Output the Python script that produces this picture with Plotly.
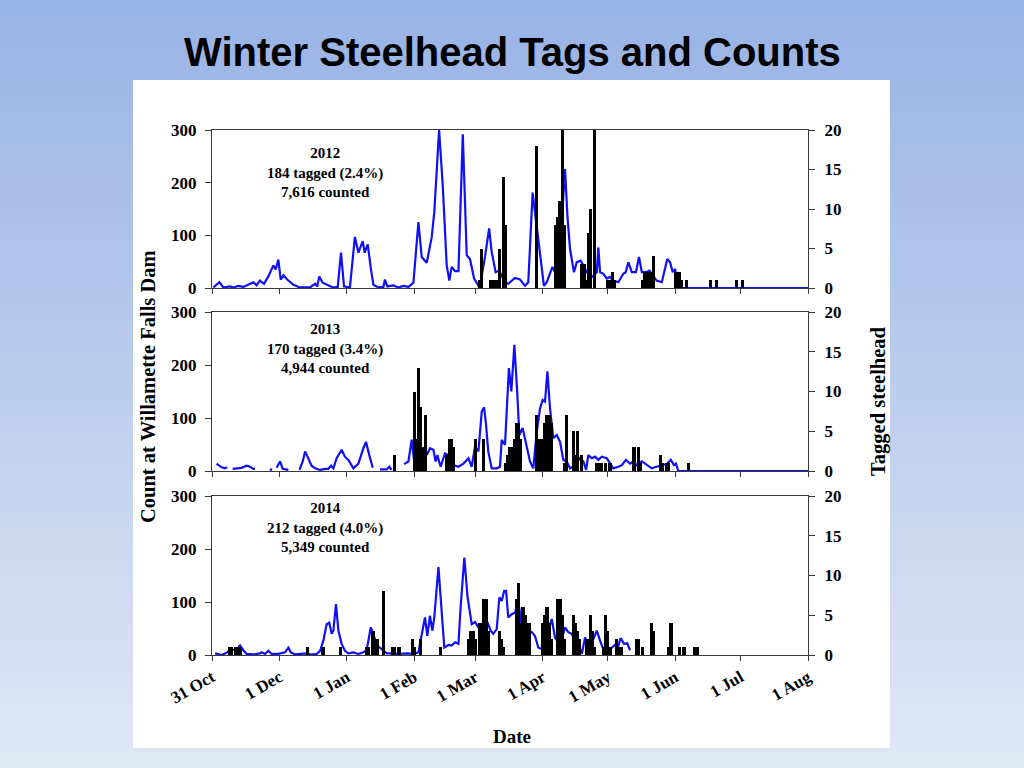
import plotly.graph_objects as go

# ---------------- data ----------------
tick_days = [0, 31, 62, 93, 121, 152, 182, 213, 243, 274]
tick_text = ["31 Oct", "1 Dec", "1 Jan", "1 Feb", "1 Mar", "1 Apr", "1 May", "1 Jun", "1 Jul", "1 Aug"]

years = ["2012", "2013", "2014"]
tagged_text = ["184 tagged (2.4%)", "170 tagged (3.4%)", "212 tagged (4.0%)"]
counted_text = ["7,616 counted", "4,944 counted", "5,349 counted"]

# daily dam counts (days after 31 Oct)
count12_day = [0.6, 3.4, 5.2, 8.3, 9.8, 12.1, 14.4, 16.7, 19, 20.5, 22, 23.9, 25.9, 28.2, 29.3, 30.5, 31.6,
               32.8, 34.6, 37.4, 40.5, 45, 47.4, 48.4, 49.3, 50.9, 52.7, 54.6, 55.8, 57.8, 59.3, 60.7, 63.4,
               64.7, 65.7, 67.3, 69.3, 70.2, 71.6, 73, 74.2, 76.5, 78.8, 79.5, 80.6, 83.4, 85.7, 88, 90.3,
               92.6, 94.9, 96.4, 98.7, 101, 102.2, 104.4, 106.1, 107.9, 109.1, 110.2, 111.7, 113.3, 115.3,
               117.1, 118.6, 120.5, 122.4, 123.5, 125.5, 127.4, 128.6, 130.4, 132, 134.7, 136.2, 139.3,
               141.6, 143.9, 145.4, 147.4, 148.5, 150, 151.6, 152.6, 153.9, 156.5, 157.7, 159.7, 162.3,
               163.4, 164.6, 166.4, 167.7, 169.5, 170.7, 172.3, 174.6, 176.9, 177.6, 178.4, 179.9, 181.5,
               183, 184.5, 186.8, 189.1, 190.2, 191.4, 193, 194.9, 196.3, 197.6, 199.5, 201.1, 204.4,
               206.8, 209.3, 210.6, 211.8, 212.9, 213.9, 214.5, 274]
count12_val = [1, 11, 1, 3, 1, 4, 2, 6, 11, 5, 14, 8, 22, 43, 35, 54, 16,
               24, 16, 6, 1, 1, 8, 3, 22, 10, 6, 3, 1, 2, 67, 3, 1,
               51, 97, 67, 89, 67, 83, 38, 6, 1, 2, 16, 3, 5, 1, 4, 2,
               10, 125, 59, 48, 96, 144, 300, 194, 43, 14, 40, 32, 32, 292,
               62, 55, 18, 5, 11, 59, 113, 68, 30, 33, 11, 8, 19,
               16, 4, 11, 181, 144, 100, 43, 4, 11, 40, 30, 55, 226,
               137, 74, 30, 49, 52, 43, 30, 21, 30, 77, 30, 27, 18,
               21, 14, 11, 27, 30, 49, 30, 30, 59, 30, 30, 33, 14,
               11, 55, 49, 30, 36, 11, 0, 0]

tags12_day = [123, 124, 128, 129, 130, 131, 132, 134, 135, 149, 158, 159, 160, 161, 162, 170, 171, 172,
              173, 174, 176, 182, 183, 184, 185, 198, 199, 200, 201, 202, 203, 213, 214, 215, 216, 218,
              229, 232, 241, 244]
tags12_val = [1, 5, 1, 1, 1, 1, 5, 14, 8, 18, 8, 9, 11, 20, 8, 3, 3, 1,
              7, 10, 20, 1, 1, 2, 1, 1, 2, 2, 2, 2, 4, 2, 2, 2, 1, 1,
              1, 1, 1, 1]

count13_day = [2.1, 3.4, 4.4, 6, 7, None, 9.5, 11.3, 13.6, 15.9, 17.5, 19, 19.8, None, 26.6, 27.6, None,
               29.7, 31.3, 32.5, 34, 35.1, None, 40.2, 41.7, 42.8, 44.3, 45.8, 47.4, 49.7, 52, 53.5, 54.7,
               55.8, 57.3, 59.6, 61.1, 62.7, 65, 67.3, 69.6, 70.8, 72.3, 73.9, None, 77.2, 80.3, 81.5, 82.6,
               None, 88.3, 90.3, 91.8, 92.9, 94.1, 95.6, 97.2, 98.7, 100.2, 101.8, 102.8, 103.6, 105.1,
               107.1, 108.7, 111, 113.3, 115.6, 117.9, 119.4, 120.9, 122.5, 124, 125.1, 126, 127, 128.6,
               130.9, 132.4, 133.2, 134.7, 136.5, 137.6, 139, 140.3, 141.3, 142.8, 144.4, 146.2, 147.7,
               149.3, 150.8, 152, 153.1, 154.2, 155.4, 156.9, 158.5, 160, 161.5, 163.1, 164.6, 166.9,
               169.2, 170.7, 172, 173, 174.6, 176.1, 177.6, 179.2, 181.5, 183, 184.5, 186.8, 188.4,
               190.3, 192.2, 193.7, 195.3, 197.6, 199.9, 202.2, 204.4, 206.8, 209.1, 210.9, 212.4,
               213.3, 214.4, 274]
count13_val = [14, 10, 7, 5, 7, None, 4, 5, 6, 10, 8, 4, 4, None, 3, 2, None,
               6, 18, 4, 3, 2, None, 2, 18, 37, 24, 10, 5, 2, 4, 4, 10,
               5, 24, 40, 27, 21, 5, 14, 43, 55, 30, 6, None, 3, 3, 8, 2,
               None, 13, 18, 59, 19, 49, 37, 43, 30, 43, 40, 18, 30, 8,
               33, 30, 11, 8, 14, 24, 8, 46, 37, 112, 120, 87, 37, 5,
               5, 8, 59, 49, 194, 150, 238, 150, 68, 81, 49, 18, 5,
               74, 118, 134, 131, 188, 118, 62, 68, 55, 21, 18, 5, 11,
               24, 18, 2, 30, 24, 27, 21, 27, 24, 14, 5, 8, 11,
               21, 14, 18, 11, 18, 11, 5, 8, 11, 13, 21, 11,
               14, 0, 0]

tags13_day = [84, 93, 94, 95, 96, 97, 98, 108, 109, 110, 111, 121, 125, 135, 136, 137, 138, 139, 140, 141,
              142, 149, 150, 151, 152, 153, 154, 155, 156, 162, 163, 166, 167, 168, 170, 177, 178, 179,
              181, 183, 194, 196, 197, 206, 207, 209, 210, 219]
tags13_val = [2, 10, 4, 13, 8, 3, 7, 2, 4, 4, 3, 4, 4, 1, 2, 3, 3, 4, 6, 6,
              4, 7, 4, 4, 4, 6, 7, 7, 6, 1, 7, 5, 2, 5, 2, 1, 1, 1,
              1, 1, 3, 3, 1, 2, 1, 1, 1, 1]

count14_day = [1.4, 2.9, 4.4, 6, 8.3, 11.3, 12.9, 14.4, 15.9, 19, 22.1, 22.8, 24.4, 25.9, 27.4, 30.5, 33.6,
               35.1, 36.2, 38.2, 41.2, 43.5, 45.8, 48.1, 49.7, 51.2, 52.7, 53.9, 55, 55.8, 57, 58.1, 59.6,
               61.1, 62.7, 65, 67.3, 69.6, 71.1, 73, 74.2, 75.7, 78, 80.3, 83.4, 86.4, 89.5, 92.6, 94.9,
               96.9, 97.9, 99, 100.2, 101.3, 102.2, 104.1, 105.6, 106.8, 108.7, 110.2, 111.7, 113.3, 114.3,
               116, 117.5, 119.4, 120.9, 122.5, 124, 125.5, 126.6, 128.1, 129.3, 130.9, 132.1, 133.2,
               134.3, 135.2, 136.2, 137.8, 139.3, 140.8, 143.1, 145.4, 147, 148.5, 150, 151.6, 153.1,
               154.6, 156.2, 157.7, 159.2, 160.8, 162.3, 163.8, 165.4, 166.9, 168.4, 170, 171.5, 172.6,
               173.8, 175.3, 176.9, 178.4, 179.9, 181.5, 183, 185.3, 186.4, 187.9, 189.4, 190.9, 192.2]
count14_val = [3, 2, 0, 3, 8, 11, 18, 9, 2, 1, 3, 5, 2, 8, 2, 2, 5,
               14, 5, 1, 2, 3, 1, 2, 8, 27, 58, 61, 40, 46, 96, 46, 21,
               8, 3, 5, 2, 5, 9, 52, 40, 18, 11, 3, 3, 2, 3, 2, 5,
               46, 71, 36, 74, 46, 71, 166, 84, 14, 19, 18, 24, 21, 90,
               184, 109, 58, 62, 52, 52, 71, 62, 46, 40, 49, 109, 102,
               121, 121, 71, 77, 80, 102, 33, 46, 43, 36, 14, 11, 24,
               46, 68, 33, 24, 30, 52, 43, 40, 27, 21, 2, 33, 24,
               21, 30, 46, 27, 11, 16, 11, 19, 11, 32, 21, 22, 9]

tags14_day = [8, 9, 11, 12, 13, 44, 51, 59, 71, 72, 74, 75, 76, 79, 83, 84, 86, 92, 93, 96, 105,
              118, 119, 120, 121, 123, 124, 125, 126, 127, 132, 133, 134, 140, 141, 142, 143, 144, 145,
              146, 152, 153, 154, 155, 156, 159, 160, 161, 162, 166, 167, 168, 169, 172, 173, 174, 175,
              176, 180, 181, 182, 183, 186, 187, 188, 195, 196, 198, 202, 203, 210, 211, 215, 217, 222, 223]
tags14_val = [1, 1, 1, 1, 1, 1, 1, 1, 1, 1, 3, 2, 2, 8, 1, 1, 1, 2, 1, 2, 1,
              2, 3, 3, 2, 4, 4, 7, 7, 3, 3, 2, 1, 7, 9, 4, 6, 5, 4,
              4, 4, 5, 6, 4, 2, 7, 7, 5, 2, 5, 4, 3, 2, 2, 2, 5, 3,
              1, 1, 5, 3, 1, 2, 1, 1, 2, 2, 1, 4, 3, 1, 4, 1, 1, 1, 1]

count_days = [count12_day, count13_day, count14_day]
count_vals = [count12_val, count13_val, count14_val]
tag_days = [tags12_day, tags13_day, tags14_day]
tag_vals = [tags12_val, tags13_val, tags14_val]

# ---------------- layout helpers ----------------
W, H = 1024, 768
def px(x):
    return x / W
def py(y):
    return 1 - y / H

x_dom = [px(212), px(808)]
panel_px = [(130, 288), (312, 471), (496, 655)]

SERIF = "Liberation Serif"
AXCOL = "#3a3a3a"
BLUE = "#1010F2"
TICKFONT = dict(family=SERIF, size=17, color="black", weight="bold")

fig = go.Figure()
layout = dict(
    width=W, height=H, autosize=False,
    margin=dict(l=0, r=0, t=0, b=0, pad=0, autoexpand=False),
    paper_bgcolor="#c4d3ee", plot_bgcolor="white",
    showlegend=False, bargap=0,
)

for i in range(3):
    xa = "x" if i == 0 else f"x{i+1}"
    yl = f"y{2*i+1}" if i > 0 else "y"
    yr = f"y{2*i+2}"
    fig.add_trace(go.Scatter(x=count_days[i], y=count_vals[i], mode="lines",
                             line=dict(color=BLUE, width=2.2), connectgaps=False,
                             xaxis=xa, yaxis=yl, cliponaxis=True))
    fig.add_trace(go.Bar(x=tag_days[i], y=tag_vals[i], width=1.45,
                         marker=dict(color="black", line=dict(width=0)),
                         xaxis=xa, yaxis=yr))
    top, bot = panel_px[i]
    ydom = [py(bot), py(top)]
    xkey = "xaxis" if i == 0 else f"xaxis{i+1}"
    ylkey = "yaxis" if i == 0 else f"yaxis{2*i+1}"
    yrkey = f"yaxis{2*i+2}"
    layout[xkey] = dict(
        domain=x_dom, range=[0, 274], anchor=yl, showgrid=False, zeroline=False, automargin=False,
        showline=True, linecolor=AXCOL, linewidth=1, mirror=True,
        ticks="outside", ticklen=5, tickcolor=AXCOL,
        tickvals=tick_days, ticktext=tick_text, showticklabels=(i == 2),
        tickangle=-30, tickfont=TICKFONT,
    )
    layout[ylkey] = dict(
        domain=ydom, range=[0, 300], anchor=xa, showgrid=False, zeroline=False, automargin=False,
        showline=True, linecolor=AXCOL, linewidth=1,
        ticks="outside", ticklen=6, tickcolor=AXCOL, tickvals=[0, 100, 200, 300],
        ticklabelstandoff=5, tickfont=TICKFONT,
    )
    layout[yrkey] = dict(
        overlaying=yl, side="right", anchor=xa, range=[0, 20], showgrid=False, zeroline=False,
        automargin=False, showline=True, linecolor=AXCOL, linewidth=1,
        ticks="outside", ticklen=6, tickcolor=AXCOL, tickvals=[0, 5, 10, 15, 20],
        ticklabelstandoff=6, tickfont=TICKFONT,
    )

# background gradient bands + white card
shapes = []
n = 48
c0 = (152, 179, 229)
c1 = (224, 231, 245)
for k in range(n):
    t = k / (n - 1)
    col = tuple(int(round(c0[j] + (c1[j] - c0[j]) * t)) for j in range(3))
    shapes.append(dict(type="rect", xref="paper", yref="paper", x0=0, x1=1,
                       y0=1 - (k + 1) / n - 0.002, y1=1 - k / n,
                       fillcolor=f"rgb{col}", line=dict(width=0), layer="below"))
shapes.append(dict(type="rect", xref="paper", yref="paper", x0=px(133), x1=px(890),
                   y0=py(748), y1=py(80), fillcolor="white", line=dict(width=0), layer="below"))
layout["shapes"] = shapes

ann = []
ann.append(dict(text="<b>Winter Steelhead Tags and Counts</b>", x=px(512), y=py(52), xref="paper", yref="paper",
                showarrow=False, font=dict(family="Liberation Sans", size=40, color="black"),
                xanchor="center", yanchor="middle"))
centers = [172, 348, 527]
for i in range(3):
    ann.append(dict(text=f"<b>{years[i]}<br>{tagged_text[i]}<br>{counted_text[i]}</b>",
                    x=px(325), y=py(centers[i]), xref="paper", yref="paper", showarrow=False,
                    font=dict(family=SERIF, size=15, color="black"), align="center",
                    xanchor="center", yanchor="middle"))
ann.append(dict(text="<b>Count at Willamette Falls Dam</b>", x=px(148), y=py(387), xref="paper", yref="paper",
                showarrow=False, textangle=-90, font=dict(family=SERIF, size=20.5, color="black"),
                xanchor="center", yanchor="middle"))
ann.append(dict(text="<b>Tagged steelhead</b>", x=px(878), y=py(401), xref="paper", yref="paper",
                showarrow=False, textangle=-90, font=dict(family=SERIF, size=20.5, color="black"),
                xanchor="center", yanchor="middle"))
ann.append(dict(text="<b>Date</b>", x=px(512), y=py(736), xref="paper", yref="paper",
                showarrow=False, font=dict(family=SERIF, size=19, color="black"),
                xanchor="center", yanchor="middle"))
layout["annotations"] = ann

fig.update_layout(**layout)
fig.write_html("out.html", config={"displayModeBar": False},
               post_script="document.body.style.margin='0px';document.body.style.overflow='hidden';")
